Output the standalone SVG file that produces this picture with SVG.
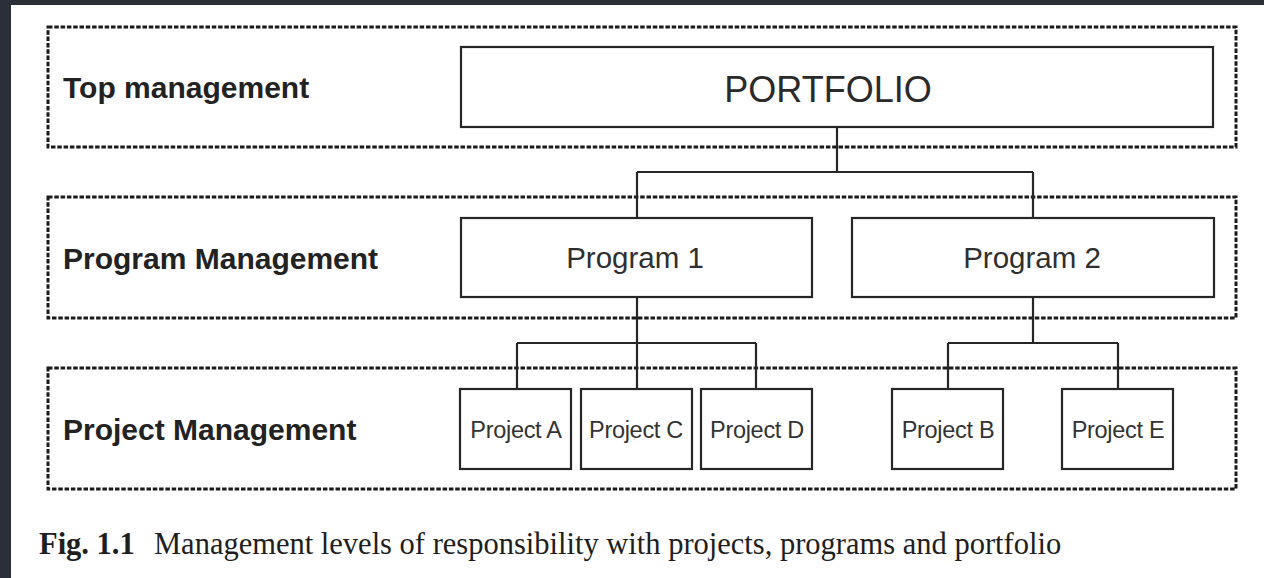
<svg xmlns="http://www.w3.org/2000/svg" width="1264" height="578" viewBox="0 0 1264 578">
  <style>
    .frame { fill: none; stroke: #1a1a1a; stroke-width: 3; stroke-dasharray: 4.5 1.8; }
    .box { fill: #ffffff; stroke: #262626; stroke-width: 2.2; }
    .link { fill: none; stroke: #262626; stroke-width: 2.2; }
    .level { font-family: "Liberation Sans", Arial, sans-serif; font-weight: bold; font-size: 30px; fill: #222; }
    .big { font-family: "Liberation Sans", Arial, sans-serif; font-size: 36px; fill: #2a2a2a; text-anchor: middle; }
    .mid { font-family: "Liberation Sans", Arial, sans-serif; font-size: 29.5px; fill: #2f2f2f; text-anchor: middle; }
    .small { font-family: "Liberation Sans", Arial, sans-serif; font-size: 23.5px; fill: #333; text-anchor: middle; letter-spacing: -0.3px; }
    .cap { font-family: "Liberation Serif", "Times New Roman", serif; font-size: 30.5px; fill: #1e1e1e; }
  </style>

  <!-- page and dark surround -->
  <rect x="0" y="0" width="1264" height="578" fill="#2b3038"/>
  <rect x="11" y="5" width="1253" height="573" fill="#ffffff"/>

  <!-- responsibility levels -->
  <g id="level-top">
    <rect class="frame" x="48" y="27" width="1188" height="120"/>
    <text class="level" x="63" y="98">Top management</text>
  </g>
  <g id="level-program">
    <rect class="frame" x="48" y="197" width="1188" height="121"/>
    <text class="level" x="63" y="269">Program Management</text>
  </g>
  <g id="level-project">
    <rect class="frame" x="48" y="368" width="1188" height="121"/>
    <text class="level" x="63" y="440">Project Management</text>
  </g>

  <!-- connectors -->
  <g id="connectors">
    <path class="link" d="M837 127 V172 M637 172 H1033 M637 172 V218 M1033 172 V218"/>
    <path class="link" d="M637 297 V343 M517 343 H756 M517 343 V389 M637 343 V389 M756 343 V389"/>
    <path class="link" d="M1033 297 V343 M948 343 H1118 M948 343 V389 M1118 343 V389"/>
  </g>

  <g id="portfolio">
    <rect class="box" x="461" y="47" width="752" height="80"/>
    <text class="big" x="828" y="102">PORTFOLIO</text>
  </g>

  <g id="program-1">
    <rect class="box" x="461" y="218" width="351" height="79"/>
    <text class="mid" x="635" y="268">Program 1</text>
  </g>
  <g id="program-2">
    <rect class="box" x="852" y="218" width="362" height="79"/>
    <text class="mid" x="1032" y="268">Program 2</text>
  </g>

  <g id="project-a">
    <rect class="box" x="460" y="389" width="111" height="80"/>
    <text class="small" x="516" y="438">Project A</text>
  </g>
  <g id="project-c">
    <rect class="box" x="581" y="389" width="111" height="80"/>
    <text class="small" x="636" y="438">Project C</text>
  </g>
  <g id="project-d">
    <rect class="box" x="701" y="389" width="111" height="80"/>
    <text class="small" x="757" y="438">Project D</text>
  </g>
  <g id="project-b">
    <rect class="box" x="892" y="389" width="111" height="80"/>
    <text class="small" x="948" y="438">Project B</text>
  </g>
  <g id="project-e">
    <rect class="box" x="1062" y="389" width="111" height="80"/>
    <text class="small" x="1118" y="438">Project E</text>
  </g>

  <!-- figure caption -->
  <text class="cap" x="39" y="554"><tspan font-weight="bold">Fig. 1.1</tspan><tspan x="154">Management levels of responsibility with projects, programs and portfolio</tspan></text>
</svg>
